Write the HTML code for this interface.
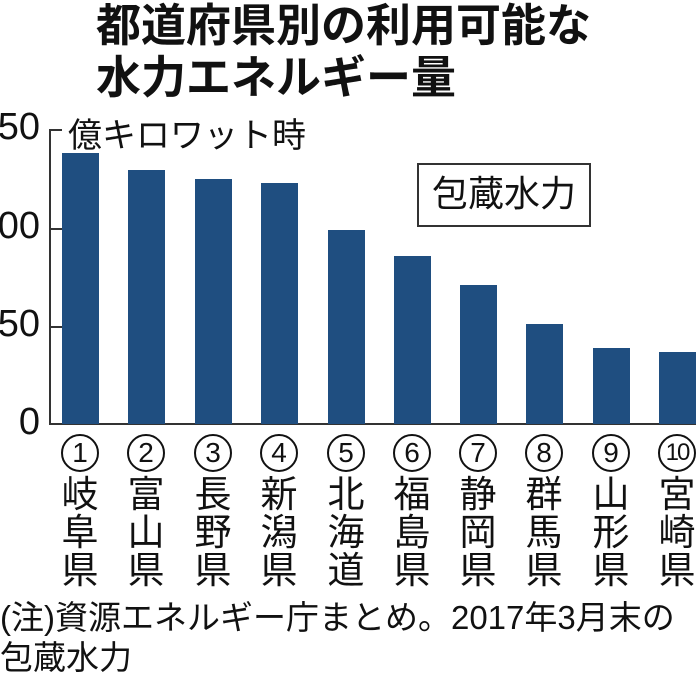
<!DOCTYPE html><html><head><meta charset="utf-8"><style>
body{margin:0;width:696px;height:696px;background:#fff;position:relative;overflow:hidden;font-family:"Liberation Sans","Noto Sans CJK JP",sans-serif;color:#111}
.a{position:absolute;white-space:nowrap}
.bar{position:absolute;background:#1f4e80;width:37px}
.lab{position:absolute;width:50px;text-align:center;top:434px}
.c{display:inline-block;width:34px;height:34px;border:2px solid #111;border-radius:50%;font-size:28px;line-height:34px;text-align:center;margin-bottom:4px}
.t{font-size:37px;line-height:38px}
.y{position:absolute;font-size:38px;text-align:right;right:656px}
.tk{position:absolute;left:49px;width:13px;height:2px;background:#333}
</style></head><body>
<div class="a" style="left:96px;top:0px;font-size:45px;font-weight:bold;line-height:52px">都道府県別の利用可能な<br>水力エネルギー量</div>
<div class="a" style="left:68px;top:108px;font-size:34px">億キロワット時</div>
<div class="a" style="left:417px;top:163px;width:170px;height:60px;border:2px solid #333;font-size:36px;line-height:58px;text-align:center">包蔵水力</div>
<div style="position:absolute;left:49px;top:129px;width:2px;height:296px;background:#333"></div>
<div style="position:absolute;left:49px;top:423px;width:647px;height:2px;background:#333"></div>
<div class="tk" style="top:129px"></div><div class="tk" style="top:228px"></div><div class="tk" style="top:326px"></div>
<div class="y" style="top:106px">150</div><div class="y" style="top:205px">100</div><div class="y" style="top:303px">50</div><div class="y" style="top:401px">0</div>
<div class="bar" style="left:62px;top:153px;height:271px"></div>
<div class="bar" style="left:128px;top:170px;height:254px"></div>
<div class="bar" style="left:195px;top:179px;height:245px"></div>
<div class="bar" style="left:261px;top:183px;height:241px"></div>
<div class="bar" style="left:328px;top:230px;height:194px"></div>
<div class="bar" style="left:394px;top:256px;height:168px"></div>
<div class="bar" style="left:460px;top:285px;height:139px"></div>
<div class="bar" style="left:526px;top:324px;height:100px"></div>
<div class="bar" style="left:593px;top:348px;height:76px"></div>
<div class="bar" style="left:659px;top:352px;height:72px"></div>
<div class="lab" style="left:55px"><span class="c">1</span><div class="t">岐<br>阜<br>県</div></div>
<div class="lab" style="left:121px"><span class="c">2</span><div class="t">富<br>山<br>県</div></div>
<div class="lab" style="left:188px"><span class="c">3</span><div class="t">長<br>野<br>県</div></div>
<div class="lab" style="left:254px"><span class="c">4</span><div class="t">新<br>潟<br>県</div></div>
<div class="lab" style="left:321px"><span class="c">5</span><div class="t">北<br>海<br>道</div></div>
<div class="lab" style="left:387px"><span class="c">6</span><div class="t">福<br>島<br>県</div></div>
<div class="lab" style="left:453px"><span class="c">7</span><div class="t">静<br>岡<br>県</div></div>
<div class="lab" style="left:519px"><span class="c">8</span><div class="t">群<br>馬<br>県</div></div>
<div class="lab" style="left:586px"><span class="c">9</span><div class="t">山<br>形<br>県</div></div>
<div class="lab" style="left:652px"><span class="c" style="font-size:24px;letter-spacing:-2px">10</span><div class="t">宮<br>崎<br>県</div></div>
<div class="a" style="left:0;top:598px;font-size:33px;line-height:40px">(注)資源エネルギー庁まとめ。2017年3月末の<br>包蔵水力</div>
</body></html>
